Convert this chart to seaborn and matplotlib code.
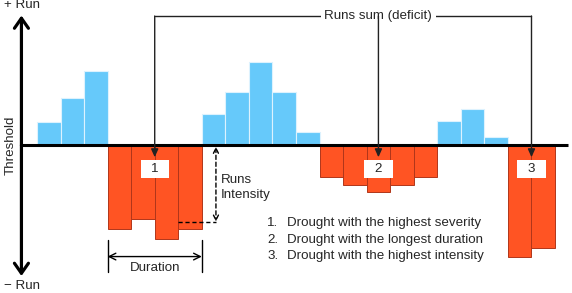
import numpy as np
import pandas as pd
import matplotlib
matplotlib.use("Agg")
import matplotlib.pyplot as plt
import seaborn as sns
from matplotlib.patches import Rectangle

# index values relative to the threshold (wet > 0, dry < 0)
values = [2.3, 4.7, 7.4,
          -8.4, -7.4, -9.4, -8.4,
          3.1, 5.3, 8.3, 5.3, 1.3,
          -3.2, -4.0, -4.7, -4.0, -3.2,
          2.4, 3.6, 0.8,
          -11.2, -10.3]
drought_runs = [(3, 6), (12, 16), (20, 21)]
drought_notes = ["Drought with the highest severity",
                 "Drought with the longest duration",
                 "Drought with the highest intensity"]

df = pd.DataFrame({"t": range(len(values)), "value": values})
df["kind"] = np.where(df["value"] > 0, "wet", "dry")

sns.set_theme(style="white")
plt.rcParams["font.family"] = ["Liberation Sans", "DejaVu Sans"]
FS = 9.6

fig = plt.figure(figsize=(5.72, 2.93), dpi=100)
ax = fig.add_axes([0, 0, 1, 1])

BLUE = "#66C9FA"
RED = "#FF5423"
sns.barplot(data=df, x="t", y="value", hue="kind", dodge=False, width=1.0,
            palette={"wet": BLUE, "dry": RED}, legend=False, ax=ax,
            saturation=1, zorder=2)
for p in ax.patches:
    if p.get_height() > 0:
        p.set_edgecolor("#DDF2FE")
        p.set_linewidth(0.8)
    else:
        p.set_edgecolor("#B0361A")
        p.set_linewidth(0.7)

ax.set_xlim(-2.07, 22.22)
ax.set_ylim(-14.8, 14.55)
ax.axis("off")

# axes with arrows
xa = -1.16
ax.plot([xa, 22.05], [0, 0], color="black", lw=2.2, zorder=5, solid_capstyle="butt")
for tip in (13.0, -13.1):
    ax.annotate("", xy=(xa, tip), xytext=(xa, 0),
                arrowprops=dict(arrowstyle="->,head_length=0.6,head_width=0.42",
                                lw=2.3, color="black", shrinkA=0, shrinkB=0),
                zorder=5)
ax.text(-1.9, 14.0, "+ Run", fontsize=FS, ha="left", va="center")
ax.text(-1.9, -14.05, "\u2212 Run", fontsize=FS, ha="left", va="center")
ax.text(-1.62, 0, "Threshold", fontsize=FS, rotation=90, ha="center", va="center")

# runs sum connectors
ytop = 12.95
centers = [(a + b) / 2 for a, b in drought_runs]
ax.plot([centers[0], centers[-1]], [ytop, ytop], color="#222222", lw=1.0, zorder=3)
ax.text(centers[1], ytop, "Runs sum (deficit)", fontsize=FS, ha="center", va="center",
        bbox=dict(facecolor="white", edgecolor="none", pad=2.5), zorder=4)
for i, c in enumerate(centers):
    ax.annotate("", xy=(c, -1.2), xytext=(c, ytop),
                arrowprops=dict(arrowstyle="-|>,head_length=0.4,head_width=0.18",
                                lw=1.0, color="#222222", shrinkA=0, shrinkB=0),
                zorder=6)
    ax.add_patch(Rectangle((c - 0.6, -3.25), 1.2, 1.8, facecolor="white",
                           edgecolor="none", zorder=6))
    ax.text(c, -2.35, str(i + 1), fontsize=FS, ha="center", va="center", zorder=7)

# runs intensity
xi = 7.1
yi = -7.65
ax.annotate("", xy=(xi, yi), xytext=(xi, -0.15),
            arrowprops=dict(arrowstyle="<->,head_length=0.3,head_width=0.15",
                            lw=1.0, ls=(0, (3, 2)), color="black",
                            shrinkA=0, shrinkB=0), zorder=4)
ax.plot([5.5, xi], [yi, yi], color="black", lw=1.0, ls=(0, (3, 2)), zorder=4)
ax.text(7.31, -4.25, "Runs\nIntensity", fontsize=FS, ha="left", va="center",
        linespacing=1.35)

# duration
a, b = drought_runs[0]
x0, x1 = a - 0.5, b + 0.5
for xv in (x0, x1):
    ax.plot([xv, xv], [-9.45, -12.65], color="black", lw=1.0, zorder=4)
ax.annotate("", xy=(x1, -11.15), xytext=(x0, -11.15),
            arrowprops=dict(arrowstyle="<->,head_length=0.4,head_width=0.2",
                            lw=1.0, color="black", shrinkA=0, shrinkB=0))
ax.text(centers[0], -12.3, "Duration", fontsize=FS, ha="center", va="center",
        bbox=dict(facecolor="white", edgecolor="none", pad=1))

# notes
for i, note in enumerate(drought_notes):
    y = -7.8 - 1.65 * i
    ax.text(9.27, y, f"{i + 1}.", fontsize=FS, ha="left", va="center")
    ax.text(10.12, y, note, fontsize=FS, ha="left", va="center")

fig.savefig("out.png", dpi=100)
